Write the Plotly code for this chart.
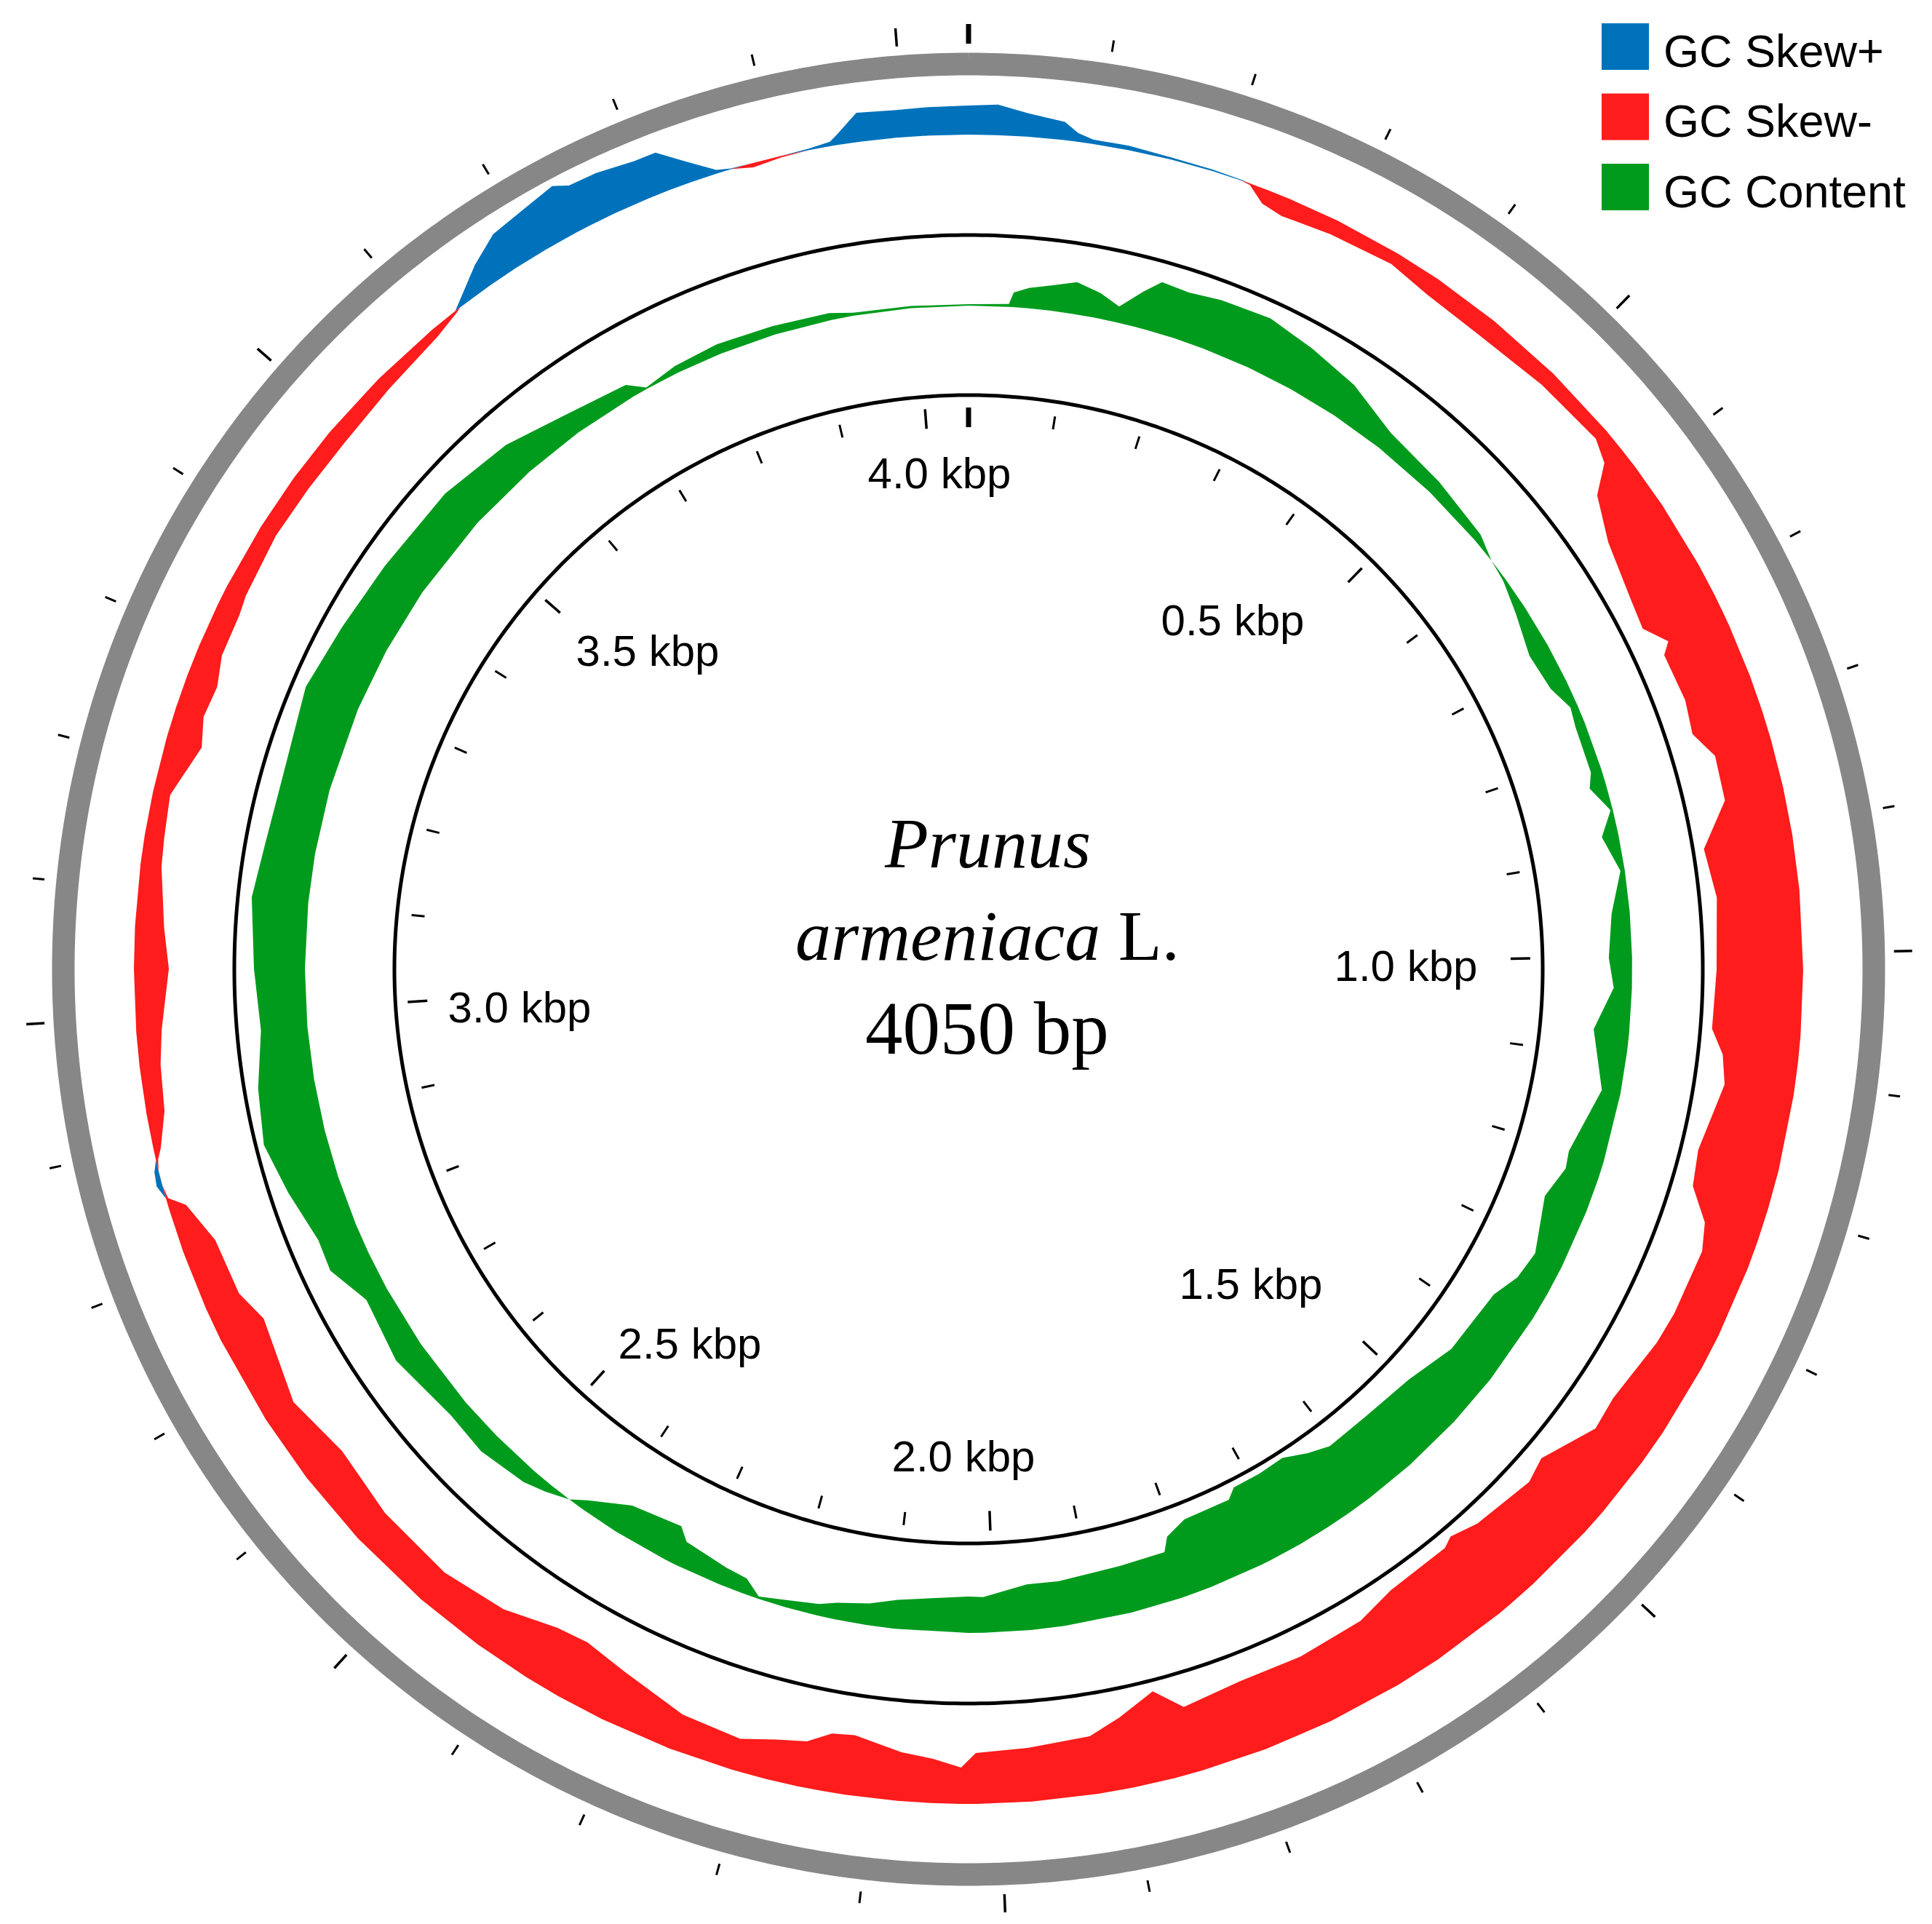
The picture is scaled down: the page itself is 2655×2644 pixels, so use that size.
import numpy as np
import plotly.graph_objects as go

GENOME_LEN = 4050
GC_MEAN = 0.36

# GC skew, window position (bp) and skew value, read clockwise from the origin
skew_pos = [0, 22, 45, 73, 84, 96, 124, 158, 191, 214,
            222, 236, 254, 295, 348, 385, 439, 500, 560, 579,
            596, 633, 686, 711, 730, 739, 781, 810, 833, 871,
            908, 951, 1013, 1064, 1085, 1110, 1169, 1200, 1226, 1249,
            1305, 1333, 1391, 1420, 1468, 1490, 1546, 1571, 1581, 1640,
            1676, 1735, 1790, 1842, 1864, 1897, 1924, 1976, 2019, 2031,
            2054, 2080, 2120, 2139, 2158, 2183, 2211, 2261, 2318, 2357,
            2385, 2430, 2486, 2554, 2615, 2670, 2741, 2768, 2815, 2849,
            2858, 2869, 2880, 2889, 2897, 2925, 2962, 2989, 3038, 3071,
            3119, 3142, 3176, 3219, 3243, 3269, 3294, 3329, 3345, 3398,
            3443, 3488, 3544, 3600, 3623, 3628, 3656, 3680, 3708, 3735,
            3746, 3768, 3797, 3814, 3833, 3853, 3864, 3881, 3904, 3926,
            3943, 3949, 3966, 3994, 4020]
skew_val = [0.080, 0.084, 0.064, 0.050, 0.024, 0.012, 0.012, 0.006, 0.004, 0.002,
            -0.004, -0.040, -0.052, -0.042, -0.034, -0.052, -0.056, -0.044, -0.036, -0.060,
            -0.130, -0.180, -0.210, -0.218, -0.170, -0.196, -0.190, -0.202, -0.160, -0.164,
            -0.246, -0.228, -0.238, -0.244, -0.208, -0.192, -0.228, -0.216, -0.154, -0.134,
            -0.136, -0.142, -0.166, -0.158, -0.224, -0.206, -0.226, -0.248, -0.234, -0.230,
            -0.204, -0.196, -0.200, -0.182, -0.246, -0.196, -0.160, -0.148, -0.140, -0.100,
            -0.122, -0.134, -0.166, -0.160, -0.126, -0.112, -0.088, -0.100, -0.144, -0.168,
            -0.160, -0.120, -0.098, -0.102, -0.122, -0.090, -0.132, -0.100, -0.094, -0.048,
            -0.006, 0.016, 0.012, -0.006, -0.020, -0.050, -0.058, -0.070, -0.096, -0.080,
            -0.058, -0.054, -0.048, -0.100, -0.080, -0.088, -0.068, -0.066, -0.058, -0.048,
            -0.050, -0.050, -0.040, -0.024, -0.006, 0.010, 0.070, 0.112, 0.126, 0.144,
            0.124, 0.122, 0.110, 0.110, 0.058, 0.010, 0.002, -0.012, -0.004, 0.004,
            0.012, 0.028, 0.080, 0.076, 0.078]

# GC content, window position (bp) and GC fraction
gc_pos = [0, 39, 43, 57, 79, 101, 124, 144, 163, 177,
          203, 233, 280, 326, 376, 430, 495, 559, 585, 608,
          641, 684, 723, 748, 768, 815, 830, 856, 880, 916,
          957, 1001, 1031, 1074, 1092, 1134, 1202, 1220, 1254, 1312,
          1342, 1370, 1442, 1496, 1556, 1607, 1631, 1657, 1688, 1720,
          1731, 1784, 1808, 1816, 1865, 1931, 1964, 2010, 2025, 2097,
          2125, 2157, 2174, 2205, 2233, 2250, 2273, 2320, 2332, 2386,
          2426, 2441, 2464, 2486, 2535, 2579, 2651, 2714, 2753, 2783,
          2833, 2880, 2930, 2982, 3038, 3102, 3150, 3214, 3297, 3360,
          3427, 3513, 3584, 3645, 3708, 3724, 3758, 3803, 3859, 3915,
          3938, 3994]
gc_val = [0.362, 0.364, 0.380, 0.388, 0.395, 0.404, 0.395, 0.382, 0.410, 0.429,
          0.426, 0.431, 0.434, 0.423, 0.410, 0.386, 0.379, 0.371, 0.360, 0.356,
          0.345, 0.331, 0.336, 0.350, 0.346, 0.345, 0.337, 0.357, 0.337, 0.354,
          0.335, 0.328, 0.335, 0.311, 0.317, 0.334, 0.310, 0.313, 0.299, 0.319,
          0.313, 0.297, 0.292, 0.275, 0.270, 0.270, 0.260, 0.246, 0.248, 0.248,
          0.260, 0.260, 0.274, 0.293, 0.294, 0.298, 0.297, 0.311, 0.310, 0.320,
          0.330, 0.337, 0.344, 0.350, 0.357, 0.339, 0.335, 0.325, 0.309, 0.318,
          0.346, 0.360, 0.372, 0.381, 0.390, 0.387, 0.401, 0.392, 0.418, 0.416,
          0.432, 0.446, 0.438, 0.424, 0.430, 0.438, 0.430, 0.427, 0.438, 0.429,
          0.423, 0.420, 0.409, 0.390, 0.379, 0.362, 0.370, 0.374, 0.372, 0.370,
          0.364, 0.363]

tick_labels = ["0.5 kbp", "1.0 kbp", "1.5 kbp", "2.0 kbp", "2.5 kbp", "3.0 kbp", "3.5 kbp", "4.0 kbp"]
legend_names = ["GC Skew+", "GC Skew-", "GC Content"]

BLUE, RED, GREEN, GRAY = "#0072bb", "#fe1c1c", "#009b1d", "#878787"

# radii in pixels (radial axis runs 0..R_MAX with R_MAX px on screen)
R_MAX = 1300
R_INNER, R_GC, R_MID, R_SKEW, R_RING = 789, 912, 1009, 1147, 1244
SKEW_SCALE, GC_SCALE = 500, 1000

# page geometry: the html body has an 8 px margin
PAGE_W, PAGE_H, OFF = 2655, 2644, 8
W, H = PAGE_W - 2 * OFF, PAGE_H - 2 * OFF
CX, CY = 1331, 1332  # centre of the map on the page


def px(x):
    return (x - OFF) / W


def py(y):
    return 1 - (y - OFF) / H


def deg(bp):
    return np.asarray(bp, float) / GENOME_LEN * 360


def band(pos, val, base, scale, positive):
    th = deg(np.append(pos, GENOME_LEN))
    v = np.append(np.asarray(val, float), val[0])
    part = np.clip(v, 0, None) if positive else np.clip(v, None, 0)
    r = np.concatenate([base + part * scale, np.full(th.size, float(base))])
    return r, np.concatenate([th, th[::-1]])


def circle(r, color, width):
    th = np.linspace(0, 360, 721)
    return go.Scatterpolar(r=np.full(th.size, r), theta=th, mode="lines",
                           line=dict(color=color, width=width), hoverinfo="skip")


def ticks(bps, r0, r1, width):
    rr, tt = [], []
    for b in bps:
        a = float(deg(b))
        rr += [r0, r1, None]
        tt += [a, a, None]
    return go.Scatterpolar(r=rr, theta=tt, mode="lines",
                           line=dict(color="black", width=width), hoverinfo="skip")


fig = go.Figure()

# GC skew track
for positive, color in [(True, BLUE), (False, RED)]:
    r, th = band(skew_pos, skew_val, R_SKEW, SKEW_SCALE, positive)
    fig.add_trace(go.Scatterpolar(r=r, theta=th, mode="lines", fill="toself",
                                  fillcolor=color, line=dict(width=0, color=color),
                                  hoverinfo="skip"))

# GC content track (deviation from the mean)
gc_dev = np.asarray(gc_val) - GC_MEAN
for positive in [True, False]:
    r, th = band(gc_pos, gc_dev, R_GC, GC_SCALE, positive)
    fig.add_trace(go.Scatterpolar(r=r, theta=th, mode="lines", fill="toself",
                                  fillcolor=GREEN, line=dict(width=0, color=GREEN),
                                  hoverinfo="skip"))

fig.add_trace(circle(R_INNER, "black", 5))
fig.add_trace(circle(R_MID, "black", 5))
fig.add_trace(circle(R_RING, GRAY, 31))

all_bp = np.arange(0, GENOME_LEN, 100)
minor = [b for b in all_bp if b % 500]
major = [b for b in all_bp if b % 500 == 0 and b > 0]
fig.add_trace(ticks(minor, 1276, 1292, 3))
fig.add_trace(ticks(major, 1272, 1297, 3.5))
fig.add_trace(ticks([0], 1272, 1299, 7))
fig.add_trace(ticks(minor, 751, 769, 3))
fig.add_trace(ticks(major, 745, 772, 3.5))
fig.add_trace(ticks([0], 745, 772, 7))

# kbp labels inside the inner circle (label centre offsets from the map centre, px)
lab_dx = np.array([363, 601, 388, -7, -383, -617, -441, -40])
lab_dy = np.array([474, -1, -438, -675, -520, -58, 432, 676])
fig.add_trace(go.Scatterpolar(r=np.hypot(lab_dx, lab_dy),
                              theta=np.degrees(np.arctan2(lab_dx, lab_dy)),
                              mode="text", text=tick_labels, textposition="middle center",
                              textfont=dict(family="Liberation Sans", size=60, color="black"),
                              hoverinfo="skip"))

fig.update_layout(
    width=W, height=H, margin=dict(l=0, r=0, t=0, b=0),
    paper_bgcolor="white", showlegend=False,
    polar=dict(
        domain=dict(x=[px(CX - R_MAX), px(CX + R_MAX)],
                    y=[py(CY + R_MAX), py(CY - R_MAX)]),
        bgcolor="white",
        radialaxis=dict(range=[0, R_MAX], visible=False),
        angularaxis=dict(rotation=90, direction="clockwise", visible=False),
    ),
)

# title in the middle
for text, y, size in [("<i>Prunus</i>", 1159, 98), ("<i>armeniaca</i> L.", 1286, 98),
                      ("4050 bp", 1413, 103)]:
    fig.add_annotation(x=px(1357), y=py(y), xref="paper", yref="paper", text=text,
                       showarrow=False, xanchor="center", yanchor="middle",
                       font=dict(family="Liberation Serif", size=size, color="black"))

# legend
for i, (name, color) in enumerate(zip(legend_names, [BLUE, RED, GREEN])):
    top = 32 + i * 96.5
    fig.add_shape(type="rect", xref="paper", yref="paper",
                  x0=px(2201), x1=px(2266), y0=py(top), y1=py(top + 64),
                  fillcolor=color, line=dict(width=0))
    fig.add_annotation(x=px(2284), y=py(top + 38), xref="paper", yref="paper",
                       text=name, showarrow=False, xanchor="left", yanchor="middle",
                       font=dict(family="Liberation Sans", size=63, color="black"))

fig.write_html("out.html")
